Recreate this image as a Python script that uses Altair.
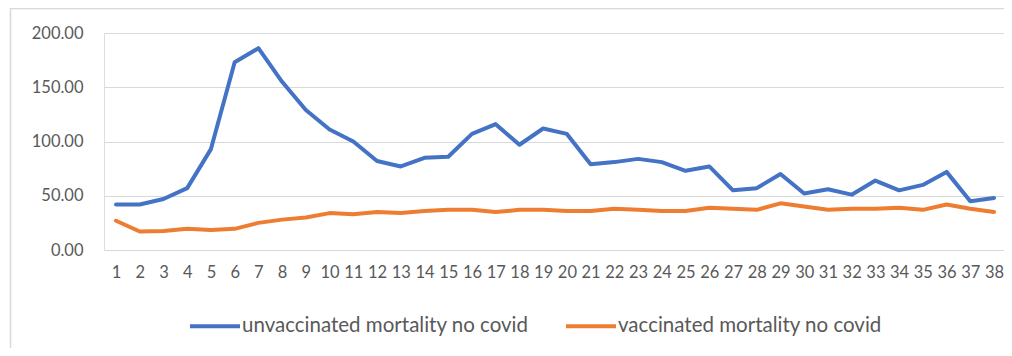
import altair as alt
import pandas as pd

weeks = list(range(1, 39))
unvaccinated = [42, 42, 47, 57, 93, 173, 186, 155, 129, 111, 100, 82, 77, 85, 86, 107, 116, 97, 112, 107,
                79, 81, 84, 81, 73, 77, 55, 57, 70, 52, 56, 51, 64, 55, 60, 72, 45, 48]
vaccinated = [27, 17, 17.5, 19.5, 18.5, 19.5, 25, 28, 30, 34, 33, 35, 34, 36, 37, 37, 35, 37, 37, 36,
              36, 38, 37, 36, 36, 39, 38, 37, 43, 40, 37, 38, 38, 39, 37, 42, 38, 35]
series_names = ["unvaccinated mortality no covid", "vaccinated mortality no covid"]
series_colors = ["#4472C4", "#ED7D31"]
y_ticks = [0, 50, 100, 150, 200]

df = pd.DataFrame({
    "week": weeks * 2,
    "value": unvaccinated + vaccinated,
    "series": [series_names[0]] * len(weeks) + [series_names[1]] * len(weeks),
})

W, H = 900, 217
FONT = "Lato"

lines = alt.Chart(df).mark_line(strokeWidth=4, strokeJoin="round", strokeCap="round").encode(
    x=alt.X("week:Q",
            scale=alt.Scale(domain=[0.494, 38.42], nice=False, zero=False),
            axis=alt.Axis(values=weeks, format="d", title=None, grid=False, domain=False,
                          ticks=False, labelOverlap=False, labelFlush=False, labelPadding=14,
                          labelFontSize=16.5, labelColor="#595959", labelFont=FONT)),
    y=alt.Y("value:Q",
            scale=alt.Scale(domain=[0, 200], nice=False),
            axis=alt.Axis(values=y_ticks, format=".2f", title=None, domain=False, ticks=False,
                          gridColor="#d9d9d9", gridWidth=1, labelPadding=21,
                          labelFontSize=16.5, labelColor="#595959", labelFont=FONT)),
    color=alt.Color("series:N",
                    scale=alt.Scale(domain=series_names, range=series_colors),
                    sort=series_names,
                    legend=alt.Legend(title=None, orient="none", legendX=84, legendY=266,
                                      direction="horizontal", symbolType="stroke",
                                      symbolSize=2500, symbolStrokeWidth=4, labelOffset=0,
                                      columnPadding=29, labelFontSize=20.5, labelLimit=0,
                                      labelColor="#595959", labelFont=FONT, padding=0)),
)

border = alt.Chart(alt.Data(values=[{}])).mark_rect(
    fill=None, stroke="#d9d9d9", strokeWidth=1.5, clip=False
).encode(
    x=alt.value(-93.5), y=alt.value(-24.5), x2=alt.value(W + 40), y2=alt.value(H + 200)
)

chart = alt.layer(border, lines).properties(
    width=W, height=H,
    autosize=alt.AutoSizeParams(type="none"),
    padding={"left": 96, "top": 25, "right": 0, "bottom": 98},
).configure_view(stroke=None).configure(background="white")

chart.save("out.html", embed_options={"renderer": "svg", "actions": False})
